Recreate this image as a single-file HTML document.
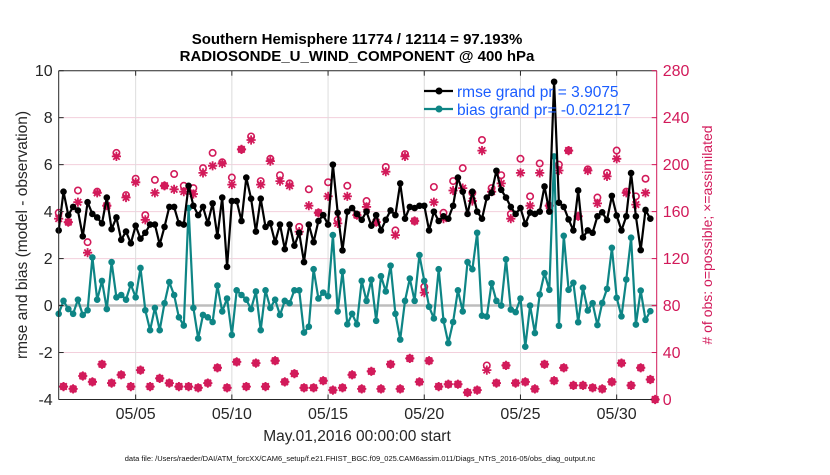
<!DOCTYPE html>
<html><head><meta charset="utf-8"><style>
body{margin:0;background:#fff;}
svg text{font-family:"Liberation Sans",sans-serif;}
</style></head><body>
<svg id="chart" width="830" height="470" viewBox="0 0 830 470" xmlns="http://www.w3.org/2000/svg">
<rect width="830" height="470" fill="#fff"/>
<text x="357" y="44" text-anchor="middle" font-size="15" font-weight="bold">Southern Hemisphere 11774 / 12114 = 97.193%</text>
<text x="357" y="61" text-anchor="middle" font-size="15" font-weight="bold">RADIOSONDE_U_WIND_COMPONENT @ 400 hPa</text>
<g id="grid"></g>
<g id="marks"></g>
<g id="axes"></g>
<text transform="translate(27,235) rotate(-90)" text-anchor="middle" font-size="15.5" fill="#262626">rmse and bias (model - observation)</text>
<text transform="translate(712,235) rotate(-90)" text-anchor="middle" font-size="14" fill="#d21a5a"># of obs: o=possible; ×=assimilated</text>
<text x="357" y="441" text-anchor="middle" font-size="15.5" fill="#262626">May.01,2016 00:00:00 start</text>
<text x="360" y="461" text-anchor="middle" font-size="7.5" fill="#111">data file: /Users/raeder/DAI/ATM_forcXX/CAM6_setup/f.e21.FHIST_BGC.f09_025.CAM6assim.011/Diags_NTrS_2016-05/obs_diag_output.nc</text>
<g>
<line x1="424" y1="91" x2="453" y2="91" stroke="#000" stroke-width="2.2"/>
<circle cx="439" cy="91" r="3.5" fill="#000"/>
<text x="457" y="97" font-size="15.5" fill="#1a5cff">rmse grand pr = 3.9075</text>
<line x1="424" y1="109" x2="453" y2="109" stroke="#0e8585" stroke-width="2.2"/>
<circle cx="439" cy="109" r="3.5" fill="#0e8585"/>
<text x="457" y="115" font-size="15.5" fill="#1a5cff">bias grand pr= -0.021217</text>
</g>
</svg>
<script>
const rmse=[3.2,4.85,3.85,4.2,4.05,2.95,4.4,3.9,3.75,3.5,4.6,3.25,3.75,2.8,3.15,2.65,3.4,2.85,3.1,3.45,3.45,2.6,3.35,4.2,4.2,3.5,3.45,5.1,4.25,3.85,4.2,3.5,4.35,2.95,4.6,1.65,4.45,4.45,3.6,5.45,4.55,3.15,4.55,
3.35,3.5,2.7,3.45,2.4,3.45,2.55,3.1,1.85,3.45,2.7,3.6,3.85,3.45,6.0,3.95,2.35,4.0,4.15,3.9,3.65,4.0,3.4,3.85,3.2,3.65,4.05,3.85,5.2,3.7,4.2,4.15,4.25,4.25,3.2,4.0,3.6,
3.8,3.7,4.25,5.45,4.85,3.9,4.85,4.0,3.7,4.6,4.8,5.74,4.93,4.6,4.2,3.9,4.15,3.47,3.96,3.9,4.0,5.07,4.0,9.53,4.38,4.2,3.67,3.2,4.9,2.9,3.2,3.1,3.8,3.97,3.64,4.67,3.83,3.2,3.8,5.64,3.8,2.36,4.07,3.7];
const bias=[-0.35,0.2,-0.15,-0.35,0.25,-0.4,-0.2,2.05,0.25,1.05,-0.15,1.85,0.35,0.45,0.25,0.9,0.35,1.6,-0.2,-1.05,-0.1,-1.05,0.1,1.0,0.45,-0.5,-0.85,4.15,-0.1,-1.4,-0.4,-0.5,-0.7,0.85,-0.25,0.3,-1.25,0.65,0.45,0.25,-0.15,0.6,-1.05,
0.65,-0.1,0.25,-0.4,0.2,0.1,0.65,0.65,-1.15,-0.9,1.55,0.3,0.55,0.4,3.0,-0.25,1.45,-0.8,-0.35,-0.8,1.05,0.2,1.1,-0.65,1.25,0.6,1.7,-0.35,-1.45,0.2,1.15,0.2,2.15,1.05,-0.05,-0.55,1.55,
-0.64,-1.6,-0.7,0.65,-0.25,1.85,1.55,3.1,-0.43,-0.47,0.95,0.2,0,1.97,-0.17,-0.28,0.3,-1.75,0,-1.17,0.47,1.38,0.67,6.35,-0.86,2.97,0.67,0.97,-0.71,0.76,-0.21,0.1,-0.83,0.11,0.71,2.46,0.33,-0.46,1.11,2.89,-0.81,0.64,-0.61,-0.24];
const possible=[159,11,151,9,178,20,134,15,177,30,165,14,210,21,174,11,188,25,157,11,187,18,182,14,192,11,182,11,180,10,197,14,210,27,202,10,189,32,213,11,224,31,186,11,205,33,191,15,184,22,147,10,179,10,159,16,185,8,153,10,182,21,157,9,169,24,151,9,198,30,144,9,209,35,152,15,96,33,181,11,159,13,186,13,197,6,176,8,221,29,180,14,191,29,158,14,205,15,173,9,201,30,165,16,200,27,212,12,156,12,196,10,172,9,193,15,212,31,177,12,173,27,188,17,0];
const assimilated=[154,11,151,9,168,20,125,15,176,30,165,14,207,21,172,11,185,25,153,11,176,18,182,14,179,11,177,11,175,10,193,14,199,27,201,10,183,32,213,11,221,31,183,11,203,33,186,15,182,22,143,10,165,10,159,16,173,8,150,10,173,21,157,9,164,24,151,9,194,30,140,9,207,35,152,15,91,33,168,11,154,13,178,13,180,6,169,8,212,25,177,14,184,29,154,14,193,15,165,9,193,30,165,16,195,27,212,12,156,12,195,10,167,9,190,15,205,31,176,12,166,27,176,17,0];
const leftTicks=[-4,-2,0,2,4,6,8,10];
const rightTicks=[0,40,80,120,160,200,240,280];
const xTickDays=[4,9,14,19,24,29];
const xTickLabels=['05/05','05/10','05/15','05/20','05/25','05/30'];

const X0=58.7,X1=656.7,Y0=70.7,Y1=399.5,PXDAY=19.24;
const xs=d=>X0+d*PXDAY;
const yl=v=>Y1-(v+4)/14*(Y1-Y0);
const yr=v=>Y1-v/280*(Y1-Y0);
const dayOf=i=>i*0.25;
const NS='http://www.w3.org/2000/svg';
function mk(tag,attrs,parent){const e=document.createElementNS(NS,tag);for(const k in attrs)e.setAttribute(k,attrs[k]);parent.appendChild(e);return e;}
const grid=document.getElementById('grid'),marks=document.getElementById('marks'),axes=document.getElementById('axes');
const RED='#d21a5a',TEAL='#0e8585';
mk('rect',{x:X0,y:Y0,width:X1-X0,height:Y1-Y0,fill:'#fff'},grid);
leftTicks.forEach(v=>{if(v>-4&&v<10&&v!==0){const l=mk('line',{x1:X0,x2:X1,y1:yl(v),y2:yl(v),stroke:'#f3cfdc','stroke-width':1},grid);

}});
xTickDays.forEach(d=>{const l=mk('line',{x1:xs(d),x2:xs(d),y1:Y0,y2:Y1,stroke:'#dcdcdc','stroke-width':1},grid);

});
const zl=mk('line',{x1:X0,x2:X1,y1:yl(0),y2:yl(0),stroke:'#bdbdbd','stroke-width':2.5},grid);



function star(cx,cy,g){const r=4.6;let d='';for(let k=0;k<4;k++){const a=k*Math.PI/4;d+=`M${(cx-r*Math.cos(a)).toFixed(1)},${(cy-r*Math.sin(a)).toFixed(1)}L${(cx+r*Math.cos(a)).toFixed(1)},${(cy+r*Math.sin(a)).toFixed(1)}`;}
return mk('path',{d:d,stroke:RED,'stroke-width':1.8,fill:'none'},g);}
possible.forEach((v,i)=>{const c=mk('circle',{cx:xs(dayOf(i)),cy:yr(v),r:3.2,fill:'none',stroke:RED,'stroke-width':1.6},marks);

});
assimilated.forEach((v,i)=>{const s=star(xs(dayOf(i)),yr(v),marks);

});

function series(arr,color,name){
const pts=arr.map((v,i)=>xs(dayOf(i)).toFixed(1)+','+yl(v).toFixed(1)).join(' ');
const pl=mk('polyline',{points:pts,fill:'none',stroke:color,'stroke-width':2.2,'stroke-linejoin':'round'},marks);


arr.forEach((v,i)=>{const c=mk('circle',{cx:xs(dayOf(i)),cy:yl(v),r:3.3,fill:color},marks);

});}
series(bias,TEAL,'bias');
series(rmse,'#000','rmse');

mk('line',{x1:X0,x2:X1,y1:Y0,y2:Y0,stroke:'#262626','stroke-width':1},axes);
mk('line',{x1:X0,x2:X1,y1:Y1,y2:Y1,stroke:'#262626','stroke-width':1},axes);
mk('line',{x1:X0,x2:X0,y1:Y0,y2:Y1,stroke:'#262626','stroke-width':1},axes);
mk('line',{x1:X1,x2:X1,y1:Y0,y2:Y1,stroke:RED,'stroke-width':1},axes);
leftTicks.forEach(v=>{mk('line',{x1:X0,x2:X0+5,y1:yl(v),y2:yl(v),stroke:'#262626'},axes);
const t=mk('text',{x:X0-6,y:yl(v)+5.5,'text-anchor':'end','font-size':16,fill:'#262626'},axes);t.textContent=v;

});
rightTicks.forEach(v=>{mk('line',{x1:X1-5,x2:X1,y1:yr(v),y2:yr(v),stroke:RED},axes);
const t=mk('text',{x:X1+6,y:yr(v)+5.5,'font-size':16,fill:RED},axes);t.textContent=v;

});
xTickDays.forEach((d,i)=>{mk('line',{x1:xs(d),x2:xs(d),y1:Y1-5,y2:Y1,stroke:'#262626'},axes);mk('line',{x1:xs(d),x2:xs(d),y1:Y0,y2:Y0+5,stroke:'#262626'},axes);
const t=mk('text',{x:xs(d),y:419,'text-anchor':'middle','font-size':16,fill:'#262626'},axes);t.textContent=xTickLabels[i];

});
</script>
</body></html>
